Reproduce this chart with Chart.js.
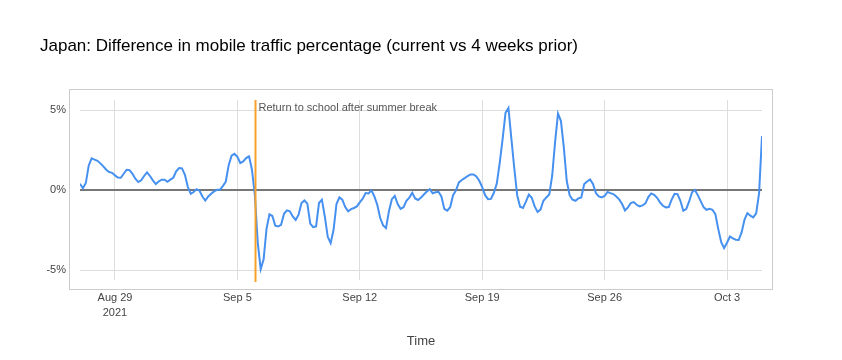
<!DOCTYPE html>
<html><head><meta charset="utf-8">
<script src="https://cdn.jsdelivr.net/npm/chart.js@4"></script>
<style>html,body{margin:0;padding:0;background:#fff}</style>
</head><body>
<canvas id="c" width="842" height="360"></canvas>
<script>
const titleText = "Japan: Difference in mobile traffic percentage (current vs 4 weeks prior)";
const xAxisTitle = "Time";
const seriesStart = Date.UTC(2021, 7, 27);   // Aug 27 2021, 00:00
const stepHours = 4;
const trafficDiff = [
  0.42, 0.13, 0.46, 1.56, 2.0, 1.92, 1.85, 1.69, 1.5, 1.29, 1.15, 1.1,
  0.94, 0.81, 0.79, 1.04, 1.29, 1.27, 1.04, 0.73, 0.52, 0.63, 0.9, 1.13,
  0.9, 0.63, 0.4, 0.56, 0.67, 0.67, 0.54, 0.67, 0.79, 1.19, 1.40, 1.38,
  0.98, 0.21, -0.21, -0.10, 0.08, -0.02, -0.38, -0.63, -0.38, -0.21, -0.06, 0.04,
  0.04, 0.27, 0.54, 1.56, 2.17, 2.29, 2.1, 1.71, 1.81, 2.02, 2.13, 1.29,
  -0.3, -3.29, -4.92, -4.3, -2.4, -1.5, -1.6, -2.2, -2.25, -2.15, -1.46, -1.25,
  -1.31, -1.63, -1.85, -1.52, -0.79, -0.63, -0.83, -2.08, -2.29, -2.25, -0.79, -0.58,
  -1.63, -2.9, -3.29, -2.46, -0.85, -0.44, -0.58, -1.04, -1.31, -1.17, -1.1, -1.0,
  -0.75, -0.52, -0.17, -0.19, 0.0, -0.38, -0.9, -1.73, -2.19, -2.35, -1.3, -0.55,
  -0.35, -0.85, -1.15, -1.05, -0.65, -0.45, -0.15, -0.5, -0.6, -0.45, -0.26, -0.07,
  0.07, -0.18, -0.12, -0.09, -0.38, -1.16, -1.27, -1.05, -0.3, 0.0, 0.5, 0.65,
  0.77, 0.9, 1.0, 1.0, 0.87, 0.6, 0.2, -0.3, -0.55, -0.53, -0.15, 0.43,
  1.7, 3.2, 4.85, 5.15, 3.25, 1.4, -0.3, -1.02, -1.1, -0.7, -0.26, -0.46,
  -1.0, -1.35, -1.2, -0.65, -0.44, -0.26, 0.9, 3.0, 4.8, 4.35, 2.7, 0.6,
  -0.3, -0.58, -0.65, -0.5, -0.44, 0.4, 0.56, 0.69, 0.4, -0.17, -0.38, -0.44,
  -0.35, -0.1, -0.17, -0.23, -0.38, -0.56, -0.85, -1.25, -1.06, -0.79, -0.73, -0.9,
  -1.0, -0.94, -0.81, -0.42, -0.19, -0.27, -0.46, -0.75, -0.96, -1.06, -1.04, -0.58,
  -0.21, -0.23, -0.65, -1.27, -1.17, -0.69, -0.12, 0.02, -0.31, -0.69, -1.06, -1.21,
  -1.15, -1.21, -1.48, -2.42, -3.23, -3.6, -3.27, -2.88, -3.0, -3.08, -3.1, -2.63,
  -1.83, -1.42, -1.58, -1.69, -1.44, -0.17, 3.4
];
const xMin = Date.UTC(2021, 7, 27);
const xMax = Date.UTC(2021, 9, 5);
const tickDates = [Date.UTC(2021,7,29), Date.UTC(2021,8,5), Date.UTC(2021,8,12), Date.UTC(2021,8,19), Date.UTC(2021,8,26), Date.UTC(2021,9,3)];
const tickLabels = [["Aug 29", "2021"], "Sep 5", "Sep 12", "Sep 19", "Sep 26", "Oct 3"];
const yTicks = [-5, 0, 5];
const yMin = -5.6, yMax = 5.65;
const eventDates = [Date.UTC(2021, 8, 6)];
const eventLabels = ["Return to school after summer break"];

const FONT = '"Liberation Sans", Arial, Helvetica, sans-serif';
const points = trafficDiff.map((v, i) => ({ x: seriesStart + i * stepHours * 3600000, y: v }));

const decor = {
  id: 'decor',
  beforeDraw(chart) {
    const { ctx, chartArea: a } = chart;
    ctx.save();
    ctx.strokeStyle = '#cccccc';
    ctx.lineWidth = 1;
    ctx.strokeRect(a.left - 10.5, a.top - 10.5, (a.right - a.left) + 21, (a.bottom - a.top) + 20);
    ctx.fillStyle = '#000';
    ctx.font = '17px ' + FONT;
    ctx.textBaseline = 'middle';
    ctx.textAlign = 'left';
    ctx.fillText(titleText, 40, 46);
    ctx.restore();
  },
  afterDatasetsDraw(chart) {
    const { ctx, chartArea: a, scales } = chart;
    ctx.save();
    eventDates.forEach((d, k) => {
      const px = Math.round(scales.x.getPixelForValue(d)) + 0.5;
      ctx.strokeStyle = '#f7a12a';
      ctx.lineWidth = 2;
      ctx.beginPath();
      ctx.moveTo(px, a.top);
      ctx.lineTo(px, a.bottom + 2);
      ctx.stroke();
      ctx.fillStyle = '#555';
      ctx.font = '11px ' + FONT;
      ctx.textBaseline = 'middle';
      ctx.textAlign = 'left';
      ctx.fillText(eventLabels[k], px + 3, a.top + 8);
    });
    ctx.restore();
  }
};

new Chart(document.getElementById('c'), {
  type: 'line',
  data: {
    datasets: [{
      data: points,
      borderColor: '#4690f0',
      borderWidth: 2,
      pointRadius: 0,
      tension: 0,
      fill: false
    }]
  },
  options: {
    responsive: false,
    animation: false,
    events: [],
    layout: { padding: { top: 100, left: 0, right: 80, bottom: 0 } },
    plugins: { legend: { display: false }, tooltip: { enabled: false }, title: { display: false } },
    scales: {
      x: {
        type: 'linear',
        min: xMin, max: xMax,
        afterBuildTicks: s => { s.ticks = tickDates.map(v => ({ value: v })); },
        afterFit: s => { s.height = 80; },
        border: { display: false },
        grid: { color: '#dddddd', lineWidth: 1, drawTicks: false },
        ticks: {
          autoSkip: false, maxRotation: 0, padding: 11,
          color: '#444', font: { size: 11, family: FONT, lineHeight: 1.35 },
          callback: (v, i) => tickLabels[i]
        },
        title: {
          display: true, text: xAxisTitle, color: '#444',
          font: { size: 13, family: FONT }, padding: { top: 0, bottom: 11 }
        }
      },
      y: {
        min: yMin, max: yMax,
        afterBuildTicks: s => { s.ticks = yTicks.map(v => ({ value: v })); },
        afterFit: s => { s.width = 80; },
        border: { display: false },
        grid: {
          drawTicks: false,
          color: c => (c.tick && c.tick.value === 0) ? '#777777' : '#dddddd',
          lineWidth: c => (c.tick && c.tick.value === 0) ? 2 : 1
        },
        ticks: {
          padding: 14, color: '#444', font: { size: 11, family: FONT },
          callback: v => v + '%'
        }
      }
    }
  },
  plugins: [decor]
});
</script>
</body></html>
